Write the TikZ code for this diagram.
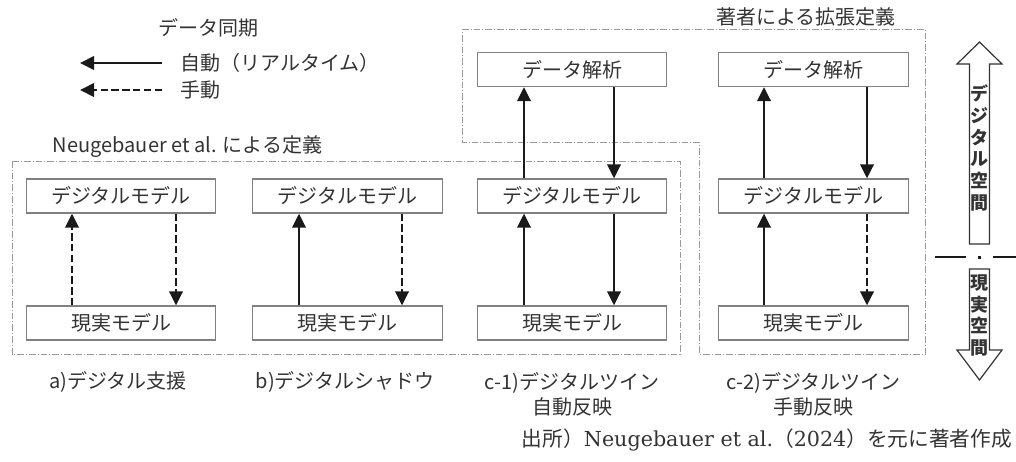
\documentclass[tikz,border=0pt]{standalone}
\usepackage{fontspec}
\setmainfont{Noto Sans CJK JP}
\newfontfamily\serifl{DejaVu Serif}
\usetikzlibrary{arrows.meta,calc}
\definecolor{boxgray}{HTML}{808080}
\definecolor{framegray}{HTML}{9A9A9A}
\definecolor{txt}{HTML}{333333}
\definecolor{arr}{HTML}{1A1A1A}
\begin{document}
\begin{tikzpicture}[x=0.75pt,y=-0.75pt,
  mbox/.style={draw=boxgray,line width=0.9pt,minimum width=142pt,minimum height=25.5pt,inner sep=0pt,font=\fontsize{15pt}{18pt}\selectfont,text=txt},
  frame/.style={draw=framegray,line width=0.7pt,dash pattern=on 5pt off 1.5pt on 0.75pt off 1.5pt},
  solidarr/.style={draw=arr,line width=2pt,-{Triangle[width=10pt,length=10.5pt]}},
  dasharr/.style={solidarr,dash pattern=on 5.5pt off 2.6pt},
  lbl/.style={font=\fontsize{15pt}{18.75pt}\selectfont,text=txt,inner sep=0pt},
  vlbl/.style={font=\fontsize{13.5pt}{16.3pt}\selectfont\bfseries,text=txt,inner sep=0pt,align=center},
  bigarrow/.style={draw=txt,line width=0.9pt,fill=white}
]
\useasboundingbox (0,0) rectangle (1016,461);

% frames
\draw[frame] (12,161) rectangle (680,354);
\draw[frame] (462,29) -- (925,29) -- (925,354) -- (699,354) -- (699,142) -- (462,142) -- cycle;
\node[lbl] (neu) at (187.5,147) {Neugebauer et al. による定義};
\node[lbl] (ext) at (806,17) {著者による拡張定義};

% legend
\node[lbl] (sync) at (208,28) {データ同期};
\node[lbl,anchor=west] (autol) at (180,63) {自動（リアルタイム）};
\node[lbl,anchor=west] (manl) at (180,90) {手動};
\coordinate (ls1) at (162,63); \coordinate (le1) at (80,63);
\coordinate (ls2) at (162,90); \coordinate (le2) at (80,90);
\draw[solidarr] (ls1) -- (le1);
\draw[dasharr] (ls2) -- (le2);

% boxes
\node[mbox] (a-d) at (121,196) {デジタルモデル};
\node[mbox] (a-r) at (121,323) {現実モデル};
\node[mbox] (b-d) at (347.5,196) {デジタルモデル};
\node[mbox] (b-r) at (347.5,323) {現実モデル};
\node[mbox] (c1-t) at (572,69.5) {データ解析};
\node[mbox] (c1-d) at (572,196) {デジタルモデル};
\node[mbox] (c1-r) at (572,323) {現実モデル};
\node[mbox] (c2-t) at (813.5,69.5) {データ解析};
\node[mbox] (c2-d) at (813.5,196) {デジタルモデル};
\node[mbox] (c2-r) at (813.5,323) {現実モデル};

% arrows a
\draw[dasharr] ($(a-r.north)+(-49,0)$) -- ($(a-d.south)+(-49,0)$);
\draw[dasharr] ($(a-d.south)+(55,0)$) -- ($(a-r.north)+(55,0)$);
% arrows b
\draw[solidarr] ($(b-r.north)+(-48.5,0)$) -- ($(b-d.south)+(-48.5,0)$);
\draw[dasharr] ($(b-d.south)+(54.5,0)$) -- ($(b-r.north)+(54.5,0)$);
% arrows c-1
\draw[solidarr] ($(c1-d.north)+(-48,0)$) -- ($(c1-t.south)+(-48,0)$);
\draw[solidarr] ($(c1-t.south)+(42,0)$) -- ($(c1-d.north)+(42,0)$);
\draw[solidarr] ($(c1-r.north)+(-48,0)$) -- ($(c1-d.south)+(-48,0)$);
\draw[solidarr] ($(c1-d.south)+(42,0)$) -- ($(c1-r.north)+(42,0)$);
% arrows c-2
\draw[solidarr] ($(c2-d.north)+(-49.5,0)$) -- ($(c2-t.south)+(-49.5,0)$);
\draw[solidarr] ($(c2-t.south)+(53.5,0)$) -- ($(c2-d.north)+(53.5,0)$);
\draw[solidarr] ($(c2-r.north)+(-49.5,0)$) -- ($(c2-d.south)+(-49.5,0)$);
\draw[dasharr] ($(c2-d.south)+(53.5,0)$) -- ($(c2-r.north)+(53.5,0)$);

% captions
\node[lbl] (capa) at (118,382) {a)デジタル支援};
\node[lbl] (capb) at (345,382) {b)デジタルシャドウ};
\node[lbl,align=center] (capc1) at (572,394.5) {c-1)デジタルツイン\\自動反映};
\node[lbl,align=center] (capc2) at (813.5,394.5) {c-2)デジタルツイン\\手動反映};

% source
\node[lbl,anchor=east,font=\fontsize{15.5pt}{18pt}\selectfont] (src) at (1012,440) {出所）{\serifl Neugebauer et al.}（{\serifl 2024}）を元に著者作成};

% big arrows
\draw[bigarrow] (979.5,42) -- (1002,64) -- (989.5,64) -- (989.5,244) -- (969.5,244) -- (969.5,64) -- (957,64) -- cycle;
\draw[bigarrow] (969.5,269) -- (989.5,269) -- (989.5,350) -- (1002,350) -- (979.5,380) -- (957,350) -- (969.5,350) -- cycle;
\node[vlbl] (dig) at (979.5,148) {デ\\ジ\\タ\\ル\\空\\間};
\node[vlbl] (real) at (979.5,315.5) {現\\実\\空\\間};

% divider
\draw[arr,line width=2.2pt] (935,257) -- (966,257);
\fill[arr] (977.5,255.5) rectangle (981,258.5);
\draw[arr,line width=2.2pt] (993,257) -- (1016,257);
\end{tikzpicture}
\end{document}
